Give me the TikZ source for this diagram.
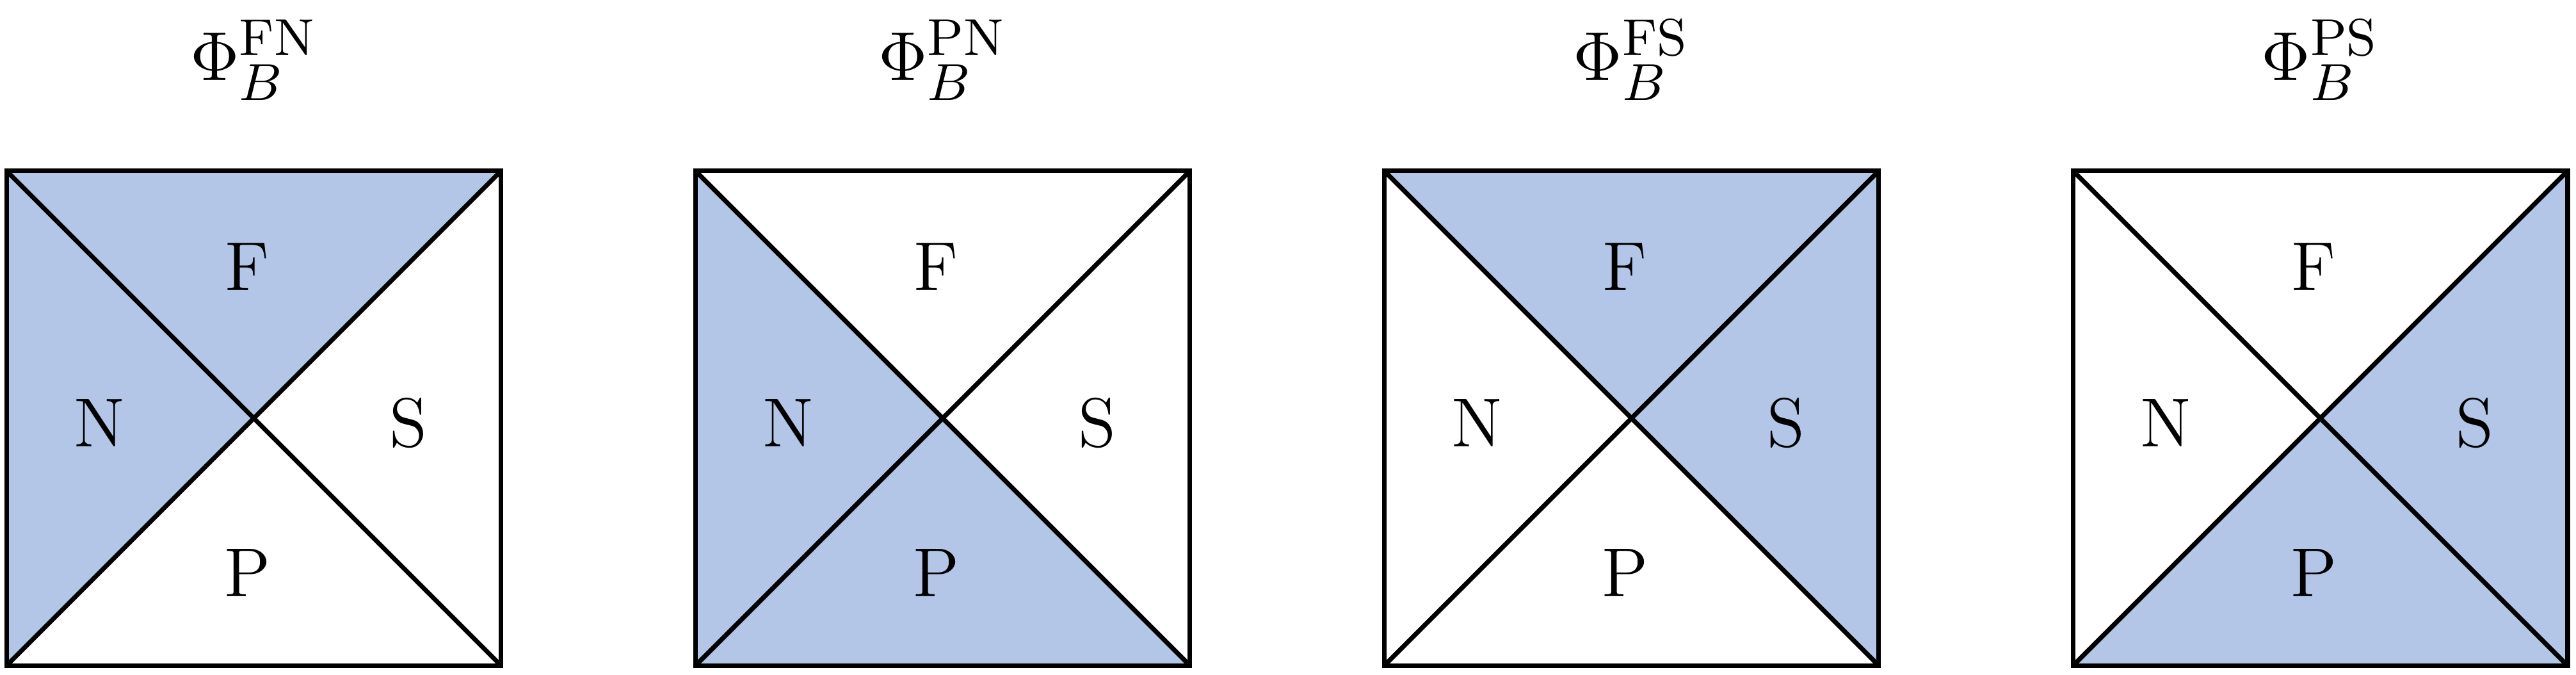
\documentclass[tikz,border=0pt]{standalone}
\begin{document}
\begin{tikzpicture}[x=0.01cm,y=0.01cm,
  sq/.style={draw=black,line width=0.8pt},
  lab/.style={font=\fontsize{12}{14}\selectfont,inner sep=0pt},
  ttl/.style={font=\fontsize{13}{15}\selectfont,inner sep=0pt}]
\definecolor{fillblue}{RGB}{179,198,231}
\useasboundingbox (0,0) rectangle (1568,-410.7);
\foreach \i/\mysup/\fa/\fb in {0/FN/1/2,1/PN/2/4,2/FS/1/3,3/PS/3/4}{
  \begin{scope}[shift={({\i*419.3+154.5},-254.5)}]
    \coordinate (tl\i) at (-150.5,150.5);
    \coordinate (tr\i) at (150.5,150.5);
    \coordinate (bl\i) at (-150.5,-150.5);
    \coordinate (br\i) at (150.5,-150.5);
    \coordinate (c\i) at (0,0);
    \foreach \f in {\fa,\fb}{
      \ifnum\f=1 \fill[fillblue] (tl\i) -- (tr\i) -- (c\i) -- cycle; \fi
      \ifnum\f=2 \fill[fillblue] (tl\i) -- (bl\i) -- (c\i) -- cycle; \fi
      \ifnum\f=3 \fill[fillblue] (tr\i) -- (br\i) -- (c\i) -- cycle; \fi
      \ifnum\f=4 \fill[fillblue] (bl\i) -- (br\i) -- (c\i) -- cycle; \fi
    }
    \draw[sq] (tl\i) rectangle (br\i);
    \draw[sq] (tl\i) -- (br\i);
    \draw[sq] (tr\i) -- (bl\i);
    \node[lab] (F\i) at (-4,92) {F};
    \node[lab] (N\i) at (-94,-3) {N};
    \node[lab] (S\i) at (94,-3) {S};
    \node[lab] (P\i) at (-4,-94) {P};
    \node[ttl] (T\i) at (0,218) {$\Phi_B^{\mathrm{\mysup}}$};
  \end{scope}
}
\end{tikzpicture}
\end{document}
